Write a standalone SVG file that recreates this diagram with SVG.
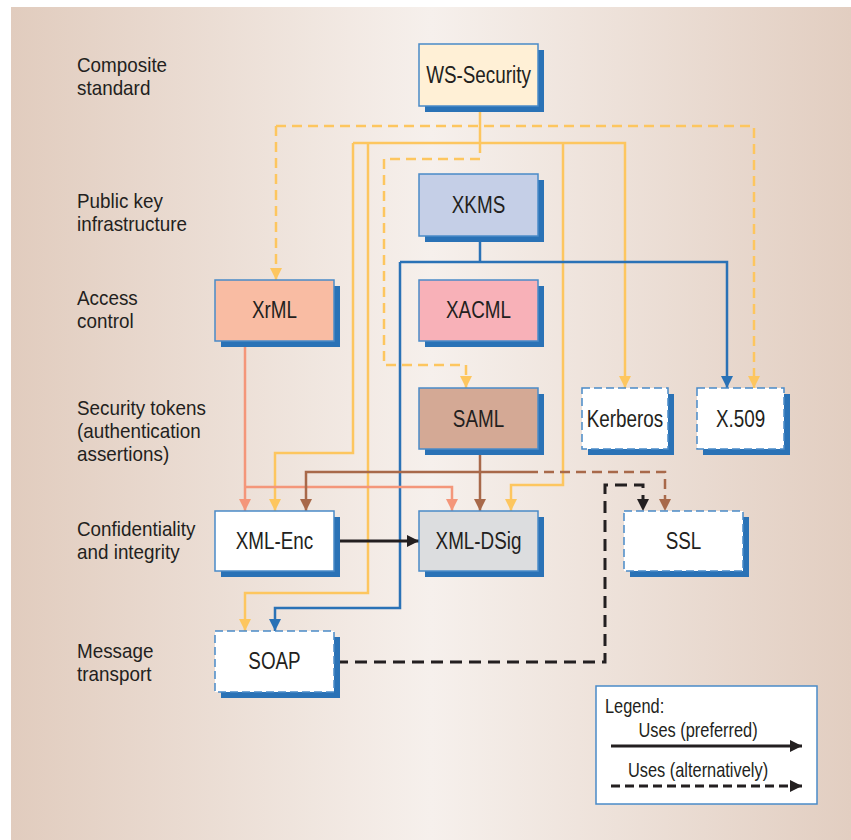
<svg xmlns="http://www.w3.org/2000/svg" width="851" height="840" viewBox="0 0 851 840">
<defs>
<linearGradient id="bg" x1="0" y1="0" x2="1" y2="0">
<stop offset="0" stop-color="#E1CCBE"/>
<stop offset="0.5" stop-color="#F6F0EC"/>
<stop offset="1" stop-color="#E2CEC1"/>
</linearGradient>
<marker id="aY" markerUnits="userSpaceOnUse" markerWidth="14" markerHeight="14" refX="12" refY="6" orient="auto"><path d="M0,0 L12,6 L0,12 z" fill="#FDC65F"/></marker>
<marker id="aB" markerUnits="userSpaceOnUse" markerWidth="14" markerHeight="14" refX="12" refY="6" orient="auto"><path d="M0,0 L12,6 L0,12 z" fill="#2A72B6"/></marker>
<marker id="aS" markerUnits="userSpaceOnUse" markerWidth="14" markerHeight="14" refX="12" refY="6" orient="auto"><path d="M0,0 L12,6 L0,12 z" fill="#F4967A"/></marker>
<marker id="aR" markerUnits="userSpaceOnUse" markerWidth="14" markerHeight="14" refX="12" refY="6" orient="auto"><path d="M0,0 L12,6 L0,12 z" fill="#A8694A"/></marker>
<marker id="aK" markerUnits="userSpaceOnUse" markerWidth="14" markerHeight="14" refX="12" refY="6" orient="auto"><path d="M0,0 L12,6 L0,12 z" fill="#231F20"/></marker>
</defs>
<style>
text{font-family:"Liberation Sans",Arial,sans-serif;fill:#231F20}
.lbl{font-size:20.5px}
.bt{font-size:23px;text-anchor:middle}
.lg{font-size:20px}
.sh{fill:#2A72B6}
.box{stroke:#4A8BC8;stroke-width:1.5}
.dbox{fill:#fff;stroke:#4A8BC8;stroke-width:1.5;stroke-dasharray:8 4}
.c{fill:none;stroke-width:2.5;stroke-linejoin:miter}
.y{stroke:#FDC65F}
.b{stroke:#2A72B6}
.s{stroke:#F4967A}
.r{stroke:#A8694A}
.k{stroke:#231F20;stroke-width:3}
.d{stroke-dasharray:10 6}
.dk{stroke-dasharray:12 7}
</style>
<rect x="11" y="7" width="840" height="833" fill="url(#bg)"/>

<g id="labels">
<text class="lbl" transform="translate(77,72) scale(0.92,1)">Composite</text>
<text class="lbl" transform="translate(77,95) scale(0.92,1)">standard</text>
<text class="lbl" transform="translate(77,208) scale(0.92,1)">Public key</text>
<text class="lbl" transform="translate(77,231) scale(0.92,1)">infrastructure</text>
<text class="lbl" transform="translate(77,305) scale(0.92,1)">Access</text>
<text class="lbl" transform="translate(77,328) scale(0.92,1)">control</text>
<text class="lbl" transform="translate(77,415) scale(0.92,1)">Security tokens</text>
<text class="lbl" transform="translate(77,438) scale(0.92,1)">(authentication</text>
<text class="lbl" transform="translate(77,461) scale(0.92,1)">assertions)</text>
<text class="lbl" transform="translate(77,536) scale(0.92,1)">Confidentiality</text>
<text class="lbl" transform="translate(77,559) scale(0.92,1)">and integrity</text>
<text class="lbl" transform="translate(77,658) scale(0.92,1)">Message</text>
<text class="lbl" transform="translate(77,681) scale(0.92,1)">transport</text>
</g>

<g id="connectors">
<path class="c y d" d="M276,126 H754 V388" marker-end="url(#aY)"/>
<path class="c y d" d="M276,126 V280" marker-end="url(#aY)"/>
<path class="c y d" d="M480,143 V159 H384 V365 H466 V388" marker-end="url(#aY)"/>
<path class="c y" d="M480,106 V143"/>
<path class="c y" d="M353,143 H625 V388" marker-end="url(#aY)"/>
<path class="c y" d="M353,143 V453 H275 V511" marker-end="url(#aY)"/>
<path class="c y" d="M368,143 V593 H245 V631" marker-end="url(#aY)"/>
<path class="c y" d="M563,143 V485 H511 V511" marker-end="url(#aY)"/>
<path class="c b" d="M480,236 V262"/>
<path class="c b" d="M400,262 H727 V388" marker-end="url(#aB)"/>
<path class="c b" d="M400,262 V608 H275 V631" marker-end="url(#aB)"/>
<path class="c s" d="M245,341 V511" marker-end="url(#aS)"/>
<path class="c s" d="M245,487 H452 V511" marker-end="url(#aS)"/>
<path class="c r" d="M480,449 V511" marker-end="url(#aR)"/>
<path class="c r" d="M528,472 H306 V511" marker-end="url(#aR)"/>
<path class="c r d" d="M528,472 H665 V511" marker-end="url(#aR)"/>
<path class="c k" d="M335,541 H419" marker-end="url(#aK)"/>
<path class="c k dk" d="M336,662 H605 V485 H643 V511" marker-end="url(#aK)"/>
</g>

<g id="ws-security">
<rect class="sh" x="425" y="50" width="119" height="62"/>
<rect class="box" x="419" y="44" width="119" height="62" fill="#FFF0D6"/>
<text class="bt" transform="translate(478.5,83) scale(0.82,1)">WS-Security</text>
</g>
<g id="xkms">
<rect class="sh" x="425" y="180" width="119" height="62"/>
<rect class="box" x="419" y="174" width="119" height="62" fill="#C5CFE7"/>
<text class="bt" transform="translate(478.5,213) scale(0.82,1)">XKMS</text>
</g>
<g id="xrml">
<rect class="sh" x="221" y="286" width="119" height="61"/>
<rect class="box" x="215" y="280" width="119" height="61" fill="#F9BCA3"/>
<text class="bt" transform="translate(274.5,318) scale(0.82,1)">XrML</text>
</g>
<g id="xacml">
<rect class="sh" x="425" y="286" width="119" height="61"/>
<rect class="box" x="419" y="280" width="119" height="61" fill="#F8B1B8"/>
<text class="bt" transform="translate(478.5,318) scale(0.82,1)">XACML</text>
</g>
<g id="saml">
<rect class="sh" x="425" y="394" width="119" height="61"/>
<rect class="box" x="419" y="388" width="119" height="61" fill="#D4A995"/>
<text class="bt" transform="translate(478.5,427) scale(0.82,1)">SAML</text>
</g>
<g id="kerberos">
<rect class="sh" x="588" y="394" width="86" height="61"/>
<rect class="dbox" x="582" y="388" width="86" height="61"/>
<text class="bt" transform="translate(625,427) scale(0.82,1)">Kerberos</text>
</g>
<g id="x509">
<rect class="sh" x="703" y="394" width="87" height="61"/>
<rect class="dbox" x="697" y="388" width="87" height="61"/>
<text class="bt" transform="translate(740.5,427) scale(0.82,1)">X.509</text>
</g>
<g id="xml-enc">
<rect class="sh" x="221" y="517" width="119" height="60"/>
<rect class="box" x="215" y="511" width="119" height="60" fill="#FFFFFF"/>
<text class="bt" transform="translate(274.5,549) scale(0.82,1)">XML-Enc</text>
</g>
<g id="xml-dsig">
<rect class="sh" x="425" y="517" width="119" height="60"/>
<rect class="box" x="419" y="511" width="119" height="60" fill="#DCDDDF"/>
<text class="bt" transform="translate(478.5,549) scale(0.82,1)">XML-DSig</text>
</g>
<g id="ssl">
<rect class="sh" x="630" y="517" width="119" height="60"/>
<rect class="dbox" x="624" y="511" width="119" height="60"/>
<text class="bt" transform="translate(683.5,549) scale(0.82,1)">SSL</text>
</g>
<g id="soap">
<rect class="sh" x="221" y="637" width="119" height="61"/>
<rect class="dbox" x="215" y="631" width="119" height="61"/>
<text class="bt" transform="translate(274.5,669) scale(0.82,1)">SOAP</text>
</g>

<g id="legend">
<rect x="596" y="686" width="221" height="118" fill="#FFFFFF" stroke="#4A8BC8" stroke-width="1.5"/>
<text class="lg" transform="translate(605,713) scale(0.82,1)">Legend:</text>
<text class="lg" text-anchor="middle" transform="translate(698,737) scale(0.82,1)">Uses (preferred)</text>
<path class="c k" d="M611,746 H802" marker-end="url(#aK)"/>
<text class="lg" text-anchor="middle" transform="translate(698,777) scale(0.82,1)">Uses (alternatively)</text>
<path class="c k" stroke-dasharray="9 5" d="M611,786 H802" marker-end="url(#aK)"/>
</g>
</svg>
